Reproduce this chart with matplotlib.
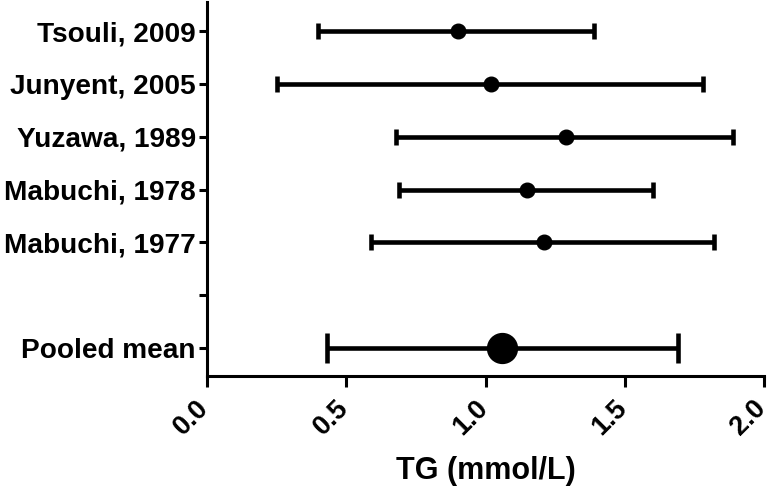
import matplotlib
matplotlib.use("Agg")
import matplotlib.pyplot as plt
import matplotlib.transforms as mtransforms

plt.rcParams['font.family'] = ['Liberation Sans', 'DejaVu Sans']
plt.rcParams['font.weight'] = 'bold'

studies = ['Tsouli, 2009', 'Junyent, 2005', 'Yuzawa, 1989', 'Mabuchi, 1978', 'Mabuchi, 1977']
means = [0.90, 1.02, 1.29, 1.15, 1.21]
lows = [0.40, 0.25, 0.68, 0.69, 0.59]
highs = [1.39, 1.78, 1.89, 1.60, 1.82]

pooled_label = 'Pooled mean'
pooled_mean = 1.06
pooled_low = 0.43
pooled_high = 1.69

x_ticks = [0.0, 0.5, 1.0, 1.5, 2.0]
x_ticklabels = ['0.0', '0.5', '1.0', '1.5', '2.0']

fig = plt.figure(figsize=(7.71, 4.88), dpi=100)
ax = fig.add_axes([0.2685, 0.2295, 0.7225, 0.7665])

# studies from top to bottom, blank slot, then pooled at bottom
ypos = [6, 5, 4, 3, 2]
for y, m, lo, hi in zip(ypos, means, lows, highs):
    ax.errorbar(m, y, xerr=[[m - lo], [hi - m]], fmt='o', color='black',
                ms=10.5, elinewidth=3.3, capsize=5.5, capthick=3.3)
ax.errorbar(pooled_mean, 0, xerr=[[pooled_mean - pooled_low], [pooled_high - pooled_mean]],
            fmt='o', color='black', ms=21.5, elinewidth=3.3, capsize=11, capthick=3.3)

ax.set_xlim(0, 2.0)
ax.set_ylim(-0.53, 6.55)
ax.set_xticks(x_ticks)
ax.set_xticklabels(x_ticklabels, rotation=45, ha='right', rotation_mode='anchor',
                   fontsize=19.5, fontweight='bold')
ax.set_yticks([6, 5, 4, 3, 2, 1, 0])
ax.set_yticklabels(studies + ['', pooled_label], fontsize=20.2, fontweight='bold')
ax.set_xlabel('TG (mmol/L)', fontsize=22, fontweight='bold')
ax.xaxis.set_label_coords(0.5, -0.213)

for s in ['top', 'right']:
    ax.spines[s].set_visible(False)
for s in ['left', 'bottom']:
    ax.spines[s].set_linewidth(2.2)
ax.tick_params(axis='x', length=8, width=2.2, pad=6)
ax.tick_params(axis='y', length=6, width=2.2, pad=2)

# nudge rotated labels a little to the left, as in the original
shift = mtransforms.ScaledTranslation(-8 / 72, 0, fig.dpi_scale_trans)
for lab in ax.get_xticklabels():
    lab.set_transform(lab.get_transform() + shift)

fig.savefig('out.png', dpi=100)
